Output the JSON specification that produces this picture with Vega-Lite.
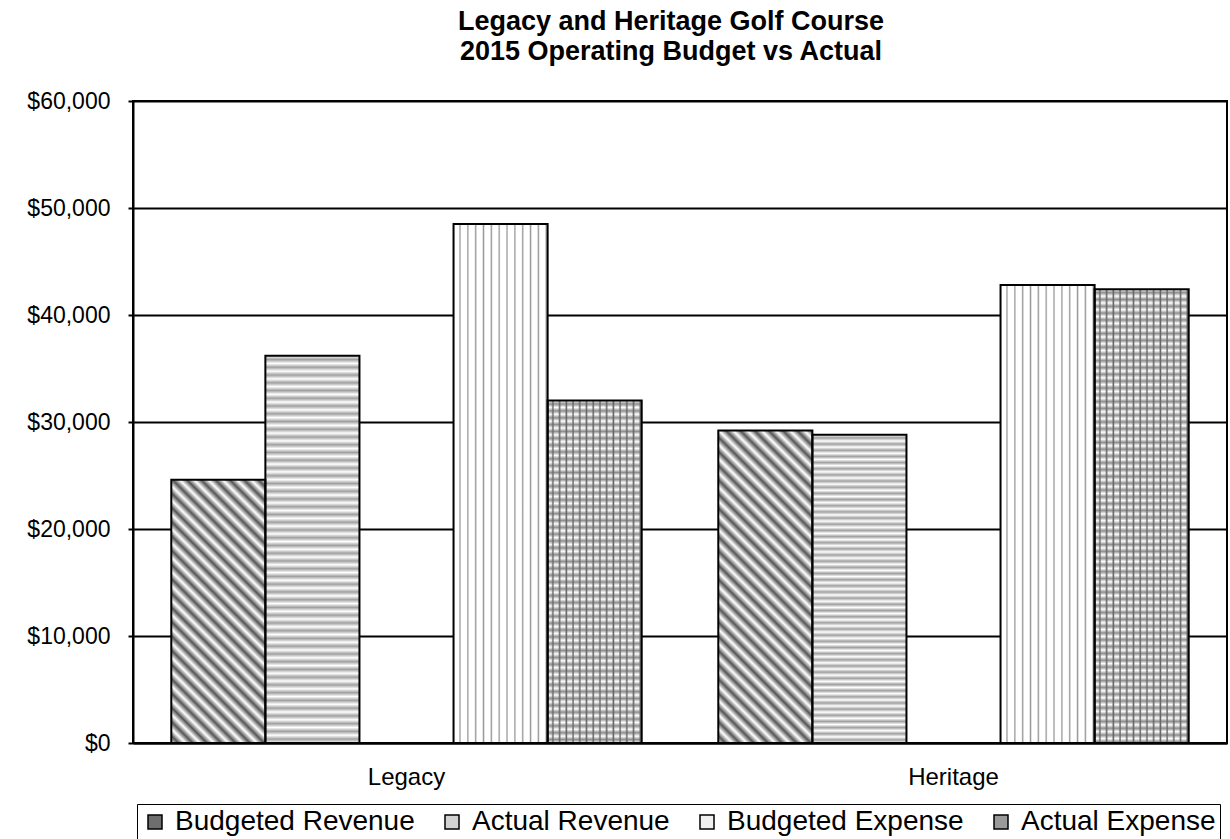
{
"$schema":"https://vega.github.io/schema/vega-lite/v6.json",
"width":1094,"height":642,
"autosize":{"type":"none"},
"padding":{"left":133,"top":101,"right":3,"bottom":96},
"background":"white",
"title":{"text":["Legacy and Heritage Golf Course","2015 Operating Budget vs Actual"],"font":"Liberation Sans","fontSize":27,"fontWeight":"bold","color":"black","lineHeight":30,"anchor":"middle","dx":-9,"offset":24},
"data":{"values":[
{"course":"Legacy","series":"Budgeted Revenue","amount":24600},
{"course":"Legacy","series":"Actual Revenue","amount":36200},
{"course":"Legacy","series":"Budgeted Expense","amount":48500},
{"course":"Legacy","series":"Actual Expense","amount":32000},
{"course":"Heritage","series":"Budgeted Revenue","amount":29200},
{"course":"Heritage","series":"Actual Revenue","amount":28800},
{"course":"Heritage","series":"Budgeted Expense","amount":42800},
{"course":"Heritage","series":"Actual Expense","amount":42400}
]},
"encoding":{
"x":{"field":"course","type":"nominal","sort":["Legacy","Heritage"],"scale":{"paddingInner":0.14,"paddingOuter":0.07},"axis":{"title":null,"labelAngle":0,"ticks":false,"labelPadding":22,"labelFontSize":24,"labelFont":"Liberation Sans","labelColor":"black","domainColor":"black","domainWidth":2,"grid":false}},
"xOffset":{"field":"series","type":"nominal","scale":{"domain":["Budgeted Revenue","Actual Revenue","gap","Budgeted Expense","Actual Expense"],"paddingInner":0,"paddingOuter":0}},
"y":{"field":"amount","type":"quantitative","scale":{"domain":[0,60000],"nice":false},"axis":{"title":null,"values":[0,10000,20000,30000,40000,50000,60000],"format":"$,.0f","labelFontSize":23,"labelFont":"Liberation Sans","labelColor":"black","labelPadding":18,"tickColor":"black","tickSize":5,"tickWidth":2,"domainColor":"black","domainWidth":2,"grid":true,"gridColor":"black","gridWidth":2}}
},
"layer":[
{"mark":{"type":"bar","stroke":null},
 "encoding":{"color":{"field":"series","type":"nominal","scale":{"domain":["Budgeted Revenue","Actual Revenue","Budgeted Expense","Actual Expense"],"range":["#6e6e6e","#d2d2d2","#f0f0f0","#9a9a9a"]},
 "legend":{"orient":"none","legendX":4,"legendY":703,"direction":"horizontal","columns":4,"gridAlign":"each","columnPadding":23,"padding":4,"strokeColor":"black","title":null,"labelFont":"Liberation Sans","labelFontSize":28,"labelLimit":500,"labelColor":"black","labelOffset":6,"symbolType":"square","symbolSize":196,"symbolStrokeColor":"black","symbolStrokeWidth":1.5,"symbolOpacity":1}}}},
{"transform":[{"filter":"datum.series==='Budgeted Revenue' && datum.course==='Legacy'"}],
 "mark":{"type":"bar","stroke":null,"fill":{"gradient":"linear","x1":0,"y1":1,"x2":0.4303,"y2":-0.2037,"stops":[
{"offset":0,"color":"#fff"},{"offset":0.02,"color":"#555"},{"offset":0.04,"color":"#fff"},{"offset":0.06,"color":"#555"},{"offset":0.08,"color":"#fff"},{"offset":0.1,"color":"#555"},{"offset":0.12,"color":"#fff"},{"offset":0.14,"color":"#555"},{"offset":0.16,"color":"#fff"},{"offset":0.18,"color":"#555"},{"offset":0.2,"color":"#fff"},{"offset":0.22,"color":"#555"},{"offset":0.24,"color":"#fff"},{"offset":0.26,"color":"#555"},{"offset":0.28,"color":"#fff"},{"offset":0.3,"color":"#555"},{"offset":0.32,"color":"#fff"},{"offset":0.34,"color":"#555"},{"offset":0.36,"color":"#fff"},{"offset":0.38,"color":"#555"},{"offset":0.4,"color":"#fff"},{"offset":0.42,"color":"#555"},{"offset":0.44,"color":"#fff"},{"offset":0.46,"color":"#555"},{"offset":0.48,"color":"#fff"},{"offset":0.5,"color":"#555"},{"offset":0.52,"color":"#fff"},{"offset":0.54,"color":"#555"},{"offset":0.56,"color":"#fff"},{"offset":0.58,"color":"#555"},{"offset":0.6,"color":"#fff"},{"offset":0.62,"color":"#555"},{"offset":0.64,"color":"#fff"},{"offset":0.66,"color":"#555"},{"offset":0.68,"color":"#fff"},{"offset":0.7,"color":"#555"},{"offset":0.72,"color":"#fff"},{"offset":0.74,"color":"#555"},{"offset":0.76,"color":"#fff"},{"offset":0.78,"color":"#555"},{"offset":0.8,"color":"#fff"},{"offset":0.82,"color":"#555"},{"offset":0.84,"color":"#fff"},{"offset":0.86,"color":"#555"},{"offset":0.88,"color":"#fff"},{"offset":0.9,"color":"#555"},{"offset":0.92,"color":"#fff"},{"offset":0.94,"color":"#555"},{"offset":0.96,"color":"#fff"},{"offset":0.98,"color":"#555"},{"offset":1,"color":"#fff"}]}}},
{"transform":[{"filter":"datum.series==='Budgeted Revenue' && datum.course==='Heritage'"}],
 "mark":{"type":"bar","stroke":null,"fill":{"gradient":"linear","x1":0,"y1":1,"x2":0.3593,"y2":-0.193,"stops":[
{"offset":0,"color":"#fff"},{"offset":0.0175,"color":"#555"},{"offset":0.035,"color":"#fff"},{"offset":0.0525,"color":"#555"},{"offset":0.07,"color":"#fff"},{"offset":0.0875,"color":"#555"},{"offset":0.105,"color":"#fff"},{"offset":0.1225,"color":"#555"},{"offset":0.14,"color":"#fff"},{"offset":0.1575,"color":"#555"},{"offset":0.175,"color":"#fff"},{"offset":0.1925,"color":"#555"},{"offset":0.21,"color":"#fff"},{"offset":0.2275,"color":"#555"},{"offset":0.245,"color":"#fff"},{"offset":0.2625,"color":"#555"},{"offset":0.28,"color":"#fff"},{"offset":0.2975,"color":"#555"},{"offset":0.315,"color":"#fff"},{"offset":0.3325,"color":"#555"},{"offset":0.35,"color":"#fff"},{"offset":0.3675,"color":"#555"},{"offset":0.385,"color":"#fff"},{"offset":0.4025,"color":"#555"},{"offset":0.42,"color":"#fff"},{"offset":0.4375,"color":"#555"},{"offset":0.455,"color":"#fff"},{"offset":0.4725,"color":"#555"},{"offset":0.49,"color":"#fff"},{"offset":0.5075,"color":"#555"},{"offset":0.525,"color":"#fff"},{"offset":0.5425,"color":"#555"},{"offset":0.56,"color":"#fff"},{"offset":0.5775,"color":"#555"},{"offset":0.595,"color":"#fff"},{"offset":0.6125,"color":"#555"},{"offset":0.63,"color":"#fff"},{"offset":0.6475,"color":"#555"},{"offset":0.665,"color":"#fff"},{"offset":0.6825,"color":"#555"},{"offset":0.7,"color":"#fff"},{"offset":0.7175,"color":"#555"},{"offset":0.735,"color":"#fff"},{"offset":0.7525,"color":"#555"},{"offset":0.77,"color":"#fff"},{"offset":0.7875,"color":"#555"},{"offset":0.805,"color":"#fff"},{"offset":0.8225,"color":"#555"},{"offset":0.84,"color":"#fff"},{"offset":0.8575,"color":"#555"},{"offset":0.875,"color":"#fff"},{"offset":0.8925,"color":"#555"},{"offset":0.91,"color":"#fff"},{"offset":0.9275,"color":"#555"},{"offset":0.945,"color":"#fff"},{"offset":0.9625,"color":"#555"},{"offset":0.98,"color":"#fff"},{"offset":0.9975,"color":"#555"}]}}},
{"transform":[{"filter":"datum.series==='Actual Revenue'"}],
 "mark":{"type":"bar","stroke":null,"fill":{"gradient":"linear","x1":0,"y1":0,"x2":0,"y2":1,"stops":[
{"offset":0,"color":"#fff"},{"offset":0.01,"color":"#a0a0a0"},{"offset":0.02,"color":"#fff"},{"offset":0.03,"color":"#a0a0a0"},{"offset":0.04,"color":"#fff"},{"offset":0.05,"color":"#a0a0a0"},{"offset":0.06,"color":"#fff"},{"offset":0.07,"color":"#a0a0a0"},{"offset":0.08,"color":"#fff"},{"offset":0.09,"color":"#a0a0a0"},{"offset":0.1,"color":"#fff"},{"offset":0.11,"color":"#a0a0a0"},{"offset":0.12,"color":"#fff"},{"offset":0.13,"color":"#a0a0a0"},{"offset":0.14,"color":"#fff"},{"offset":0.15,"color":"#a0a0a0"},{"offset":0.16,"color":"#fff"},{"offset":0.17,"color":"#a0a0a0"},{"offset":0.18,"color":"#fff"},{"offset":0.19,"color":"#a0a0a0"},{"offset":0.2,"color":"#fff"},{"offset":0.21,"color":"#a0a0a0"},{"offset":0.22,"color":"#fff"},{"offset":0.23,"color":"#a0a0a0"},{"offset":0.24,"color":"#fff"},{"offset":0.25,"color":"#a0a0a0"},{"offset":0.26,"color":"#fff"},{"offset":0.27,"color":"#a0a0a0"},{"offset":0.28,"color":"#fff"},{"offset":0.29,"color":"#a0a0a0"},{"offset":0.3,"color":"#fff"},{"offset":0.31,"color":"#a0a0a0"},{"offset":0.32,"color":"#fff"},{"offset":0.33,"color":"#a0a0a0"},{"offset":0.34,"color":"#fff"},{"offset":0.35,"color":"#a0a0a0"},{"offset":0.36,"color":"#fff"},{"offset":0.37,"color":"#a0a0a0"},{"offset":0.38,"color":"#fff"},{"offset":0.39,"color":"#a0a0a0"},{"offset":0.4,"color":"#fff"},{"offset":0.41,"color":"#a0a0a0"},{"offset":0.42,"color":"#fff"},{"offset":0.43,"color":"#a0a0a0"},{"offset":0.44,"color":"#fff"},{"offset":0.45,"color":"#a0a0a0"},{"offset":0.46,"color":"#fff"},{"offset":0.47,"color":"#a0a0a0"},{"offset":0.48,"color":"#fff"},{"offset":0.49,"color":"#a0a0a0"},{"offset":0.5,"color":"#fff"},{"offset":0.51,"color":"#a0a0a0"},{"offset":0.52,"color":"#fff"},{"offset":0.53,"color":"#a0a0a0"},{"offset":0.54,"color":"#fff"},{"offset":0.55,"color":"#a0a0a0"},{"offset":0.56,"color":"#fff"},{"offset":0.57,"color":"#a0a0a0"},{"offset":0.58,"color":"#fff"},{"offset":0.59,"color":"#a0a0a0"},{"offset":0.6,"color":"#fff"},{"offset":0.61,"color":"#a0a0a0"},{"offset":0.62,"color":"#fff"},{"offset":0.63,"color":"#a0a0a0"},{"offset":0.64,"color":"#fff"},{"offset":0.65,"color":"#a0a0a0"},{"offset":0.66,"color":"#fff"},{"offset":0.67,"color":"#a0a0a0"},{"offset":0.68,"color":"#fff"},{"offset":0.69,"color":"#a0a0a0"},{"offset":0.7,"color":"#fff"},{"offset":0.71,"color":"#a0a0a0"},{"offset":0.72,"color":"#fff"},{"offset":0.73,"color":"#a0a0a0"},{"offset":0.74,"color":"#fff"},{"offset":0.75,"color":"#a0a0a0"},{"offset":0.76,"color":"#fff"},{"offset":0.77,"color":"#a0a0a0"},{"offset":0.78,"color":"#fff"},{"offset":0.79,"color":"#a0a0a0"},{"offset":0.8,"color":"#fff"},{"offset":0.81,"color":"#a0a0a0"},{"offset":0.82,"color":"#fff"},{"offset":0.83,"color":"#a0a0a0"},{"offset":0.84,"color":"#fff"},{"offset":0.85,"color":"#a0a0a0"},{"offset":0.86,"color":"#fff"},{"offset":0.87,"color":"#a0a0a0"},{"offset":0.88,"color":"#fff"},{"offset":0.89,"color":"#a0a0a0"},{"offset":0.9,"color":"#fff"},{"offset":0.91,"color":"#a0a0a0"},{"offset":0.92,"color":"#fff"},{"offset":0.93,"color":"#a0a0a0"},{"offset":0.94,"color":"#fff"},{"offset":0.95,"color":"#a0a0a0"},{"offset":0.96,"color":"#fff"},{"offset":0.97,"color":"#a0a0a0"},{"offset":0.98,"color":"#fff"},{"offset":0.99,"color":"#a0a0a0"},{"offset":1,"color":"#fff"}]}}},
{"transform":[{"filter":"datum.series==='Budgeted Expense'"}],
 "mark":{"type":"bar","stroke":null,"fill":{"gradient":"linear","x1":0,"y1":0,"x2":1,"y2":0,"stops":[
{"offset":0,"color":"#fff"},
{"offset":0.0542,"color":"#fff"},{"offset":0.0683,"color":"#999"},{"offset":0.0833,"color":"#fff"},
{"offset":0.1375,"color":"#fff"},{"offset":0.1517,"color":"#999"},{"offset":0.1667,"color":"#fff"},
{"offset":0.2208,"color":"#fff"},{"offset":0.235,"color":"#999"},{"offset":0.25,"color":"#fff"},
{"offset":0.3042,"color":"#fff"},{"offset":0.3183,"color":"#999"},{"offset":0.3333,"color":"#fff"},
{"offset":0.3875,"color":"#fff"},{"offset":0.4017,"color":"#999"},{"offset":0.4167,"color":"#fff"},
{"offset":0.4708,"color":"#fff"},{"offset":0.485,"color":"#999"},{"offset":0.5,"color":"#fff"},
{"offset":0.5542,"color":"#fff"},{"offset":0.5683,"color":"#999"},{"offset":0.5833,"color":"#fff"},
{"offset":0.6375,"color":"#fff"},{"offset":0.6517,"color":"#999"},{"offset":0.6667,"color":"#fff"},
{"offset":0.7208,"color":"#fff"},{"offset":0.735,"color":"#999"},{"offset":0.75,"color":"#fff"},
{"offset":0.8042,"color":"#fff"},{"offset":0.8183,"color":"#999"},{"offset":0.8333,"color":"#fff"},
{"offset":0.8875,"color":"#fff"},{"offset":0.9017,"color":"#999"},{"offset":0.9167,"color":"#fff"},
{"offset":0.9708,"color":"#fff"},{"offset":0.985,"color":"#999"},{"offset":1,"color":"#fff"}]}}},
{"transform":[{"filter":"datum.series==='Actual Expense'"}],
 "mark":{"type":"bar","stroke":null,"fill":{"gradient":"linear","x1":0,"y1":0,"x2":1,"y2":0,"stops":[
{"offset":0,"color":"#fff"},
{"offset":0.0393,"color":"#fff"},{"offset":0.0571,"color":"#666"},{"offset":0.0714,"color":"#fff"},
{"offset":0.1107,"color":"#fff"},{"offset":0.1286,"color":"#666"},{"offset":0.1429,"color":"#fff"},
{"offset":0.1821,"color":"#fff"},{"offset":0.2,"color":"#666"},{"offset":0.2143,"color":"#fff"},
{"offset":0.2536,"color":"#fff"},{"offset":0.2714,"color":"#666"},{"offset":0.2857,"color":"#fff"},
{"offset":0.325,"color":"#fff"},{"offset":0.3429,"color":"#666"},{"offset":0.3571,"color":"#fff"},
{"offset":0.3964,"color":"#fff"},{"offset":0.4143,"color":"#666"},{"offset":0.4286,"color":"#fff"},
{"offset":0.4679,"color":"#fff"},{"offset":0.4857,"color":"#666"},{"offset":0.5,"color":"#fff"},
{"offset":0.5393,"color":"#fff"},{"offset":0.5571,"color":"#666"},{"offset":0.5714,"color":"#fff"},
{"offset":0.6107,"color":"#fff"},{"offset":0.6286,"color":"#666"},{"offset":0.6429,"color":"#fff"},
{"offset":0.6821,"color":"#fff"},{"offset":0.7,"color":"#666"},{"offset":0.7143,"color":"#fff"},
{"offset":0.7536,"color":"#fff"},{"offset":0.7714,"color":"#666"},{"offset":0.7857,"color":"#fff"},
{"offset":0.825,"color":"#fff"},{"offset":0.8429,"color":"#666"},{"offset":0.8571,"color":"#fff"},
{"offset":0.8964,"color":"#fff"},{"offset":0.9143,"color":"#666"},{"offset":0.9286,"color":"#fff"},
{"offset":0.9679,"color":"#fff"},{"offset":0.9857,"color":"#666"},{"offset":1,"color":"#fff"}]}}},
{"transform":[{"filter":"datum.series==='Actual Expense' && datum.course==='Legacy'"}],
 "mark":{"type":"bar","stroke":null,"fill":{"gradient":"linear","x1":0,"y1":0,"x2":0,"y2":1,"stops":[
{"offset":0,"color":"#6660"},{"offset":0.01,"color":"#666b"},{"offset":0.02,"color":"#6660"},{"offset":0.03,"color":"#666b"},{"offset":0.04,"color":"#6660"},{"offset":0.05,"color":"#666b"},{"offset":0.06,"color":"#6660"},{"offset":0.07,"color":"#666b"},{"offset":0.08,"color":"#6660"},{"offset":0.09,"color":"#666b"},{"offset":0.1,"color":"#6660"},{"offset":0.11,"color":"#666b"},{"offset":0.12,"color":"#6660"},{"offset":0.13,"color":"#666b"},{"offset":0.14,"color":"#6660"},{"offset":0.15,"color":"#666b"},{"offset":0.16,"color":"#6660"},{"offset":0.17,"color":"#666b"},{"offset":0.18,"color":"#6660"},{"offset":0.19,"color":"#666b"},{"offset":0.2,"color":"#6660"},{"offset":0.21,"color":"#666b"},{"offset":0.22,"color":"#6660"},{"offset":0.23,"color":"#666b"},{"offset":0.24,"color":"#6660"},{"offset":0.25,"color":"#666b"},{"offset":0.26,"color":"#6660"},{"offset":0.27,"color":"#666b"},{"offset":0.28,"color":"#6660"},{"offset":0.29,"color":"#666b"},{"offset":0.3,"color":"#6660"},{"offset":0.31,"color":"#666b"},{"offset":0.32,"color":"#6660"},{"offset":0.33,"color":"#666b"},{"offset":0.34,"color":"#6660"},{"offset":0.35,"color":"#666b"},{"offset":0.36,"color":"#6660"},{"offset":0.37,"color":"#666b"},{"offset":0.38,"color":"#6660"},{"offset":0.39,"color":"#666b"},{"offset":0.4,"color":"#6660"},{"offset":0.41,"color":"#666b"},{"offset":0.42,"color":"#6660"},{"offset":0.43,"color":"#666b"},{"offset":0.44,"color":"#6660"},{"offset":0.45,"color":"#666b"},{"offset":0.46,"color":"#6660"},{"offset":0.47,"color":"#666b"},{"offset":0.48,"color":"#6660"},{"offset":0.49,"color":"#666b"},{"offset":0.5,"color":"#6660"},{"offset":0.51,"color":"#666b"},{"offset":0.52,"color":"#6660"},{"offset":0.53,"color":"#666b"},{"offset":0.54,"color":"#6660"},{"offset":0.55,"color":"#666b"},{"offset":0.56,"color":"#6660"},{"offset":0.57,"color":"#666b"},{"offset":0.58,"color":"#6660"},{"offset":0.59,"color":"#666b"},{"offset":0.6,"color":"#6660"},{"offset":0.61,"color":"#666b"},{"offset":0.62,"color":"#6660"},{"offset":0.63,"color":"#666b"},{"offset":0.64,"color":"#6660"},{"offset":0.65,"color":"#666b"},{"offset":0.66,"color":"#6660"},{"offset":0.67,"color":"#666b"},{"offset":0.68,"color":"#6660"},{"offset":0.69,"color":"#666b"},{"offset":0.7,"color":"#6660"},{"offset":0.71,"color":"#666b"},{"offset":0.72,"color":"#6660"},{"offset":0.73,"color":"#666b"},{"offset":0.74,"color":"#6660"},{"offset":0.75,"color":"#666b"},{"offset":0.76,"color":"#6660"},{"offset":0.77,"color":"#666b"},{"offset":0.78,"color":"#6660"},{"offset":0.79,"color":"#666b"},{"offset":0.8,"color":"#6660"},{"offset":0.81,"color":"#666b"},{"offset":0.82,"color":"#6660"},{"offset":0.83,"color":"#666b"},{"offset":0.84,"color":"#6660"},{"offset":0.85,"color":"#666b"},{"offset":0.86,"color":"#6660"},{"offset":0.87,"color":"#666b"},{"offset":0.88,"color":"#6660"},{"offset":0.89,"color":"#666b"},{"offset":0.9,"color":"#6660"},{"offset":0.91,"color":"#666b"},{"offset":0.92,"color":"#6660"},{"offset":0.93,"color":"#666b"},{"offset":0.94,"color":"#6660"},{"offset":0.95,"color":"#666b"},{"offset":0.96,"color":"#6660"},{"offset":0.97,"color":"#666b"},{"offset":0.98,"color":"#6660"},{"offset":0.99,"color":"#666b"},{"offset":1,"color":"#6660"}]}}},
{"transform":[{"filter":"datum.series==='Actual Expense' && datum.course==='Heritage'"}],
 "mark":{"type":"bar","stroke":null,"fill":{"gradient":"linear","x1":0,"y1":0,"x2":0,"y2":1,"stops":[
{"offset":0,"color":"#6660"},{"offset":0.0075,"color":"#666b"},{"offset":0.015,"color":"#6660"},{"offset":0.0225,"color":"#666b"},{"offset":0.03,"color":"#6660"},{"offset":0.0375,"color":"#666b"},{"offset":0.045,"color":"#6660"},{"offset":0.0525,"color":"#666b"},{"offset":0.06,"color":"#6660"},{"offset":0.0675,"color":"#666b"},{"offset":0.075,"color":"#6660"},{"offset":0.0825,"color":"#666b"},{"offset":0.09,"color":"#6660"},{"offset":0.0975,"color":"#666b"},{"offset":0.105,"color":"#6660"},{"offset":0.1125,"color":"#666b"},{"offset":0.12,"color":"#6660"},{"offset":0.1275,"color":"#666b"},{"offset":0.135,"color":"#6660"},{"offset":0.1425,"color":"#666b"},{"offset":0.15,"color":"#6660"},{"offset":0.1575,"color":"#666b"},{"offset":0.165,"color":"#6660"},{"offset":0.1725,"color":"#666b"},{"offset":0.18,"color":"#6660"},{"offset":0.1875,"color":"#666b"},{"offset":0.195,"color":"#6660"},{"offset":0.2025,"color":"#666b"},{"offset":0.21,"color":"#6660"},{"offset":0.2175,"color":"#666b"},{"offset":0.225,"color":"#6660"},{"offset":0.2325,"color":"#666b"},{"offset":0.24,"color":"#6660"},{"offset":0.2475,"color":"#666b"},{"offset":0.255,"color":"#6660"},{"offset":0.2625,"color":"#666b"},{"offset":0.27,"color":"#6660"},{"offset":0.2775,"color":"#666b"},{"offset":0.285,"color":"#6660"},{"offset":0.2925,"color":"#666b"},{"offset":0.3,"color":"#6660"},{"offset":0.3075,"color":"#666b"},{"offset":0.315,"color":"#6660"},{"offset":0.3225,"color":"#666b"},{"offset":0.33,"color":"#6660"},{"offset":0.3375,"color":"#666b"},{"offset":0.345,"color":"#6660"},{"offset":0.3525,"color":"#666b"},{"offset":0.36,"color":"#6660"},{"offset":0.3675,"color":"#666b"},{"offset":0.375,"color":"#6660"},{"offset":0.3825,"color":"#666b"},{"offset":0.39,"color":"#6660"},{"offset":0.3975,"color":"#666b"},{"offset":0.405,"color":"#6660"},{"offset":0.4125,"color":"#666b"},{"offset":0.42,"color":"#6660"},{"offset":0.4275,"color":"#666b"},{"offset":0.435,"color":"#6660"},{"offset":0.4425,"color":"#666b"},{"offset":0.45,"color":"#6660"},{"offset":0.4575,"color":"#666b"},{"offset":0.465,"color":"#6660"},{"offset":0.4725,"color":"#666b"},{"offset":0.48,"color":"#6660"},{"offset":0.4875,"color":"#666b"},{"offset":0.495,"color":"#6660"},{"offset":0.5025,"color":"#666b"},{"offset":0.51,"color":"#6660"},{"offset":0.5175,"color":"#666b"},{"offset":0.525,"color":"#6660"},{"offset":0.5325,"color":"#666b"},{"offset":0.54,"color":"#6660"},{"offset":0.5475,"color":"#666b"},{"offset":0.555,"color":"#6660"},{"offset":0.5625,"color":"#666b"},{"offset":0.57,"color":"#6660"},{"offset":0.5775,"color":"#666b"},{"offset":0.585,"color":"#6660"},{"offset":0.5925,"color":"#666b"},{"offset":0.6,"color":"#6660"},{"offset":0.6075,"color":"#666b"},{"offset":0.615,"color":"#6660"},{"offset":0.6225,"color":"#666b"},{"offset":0.63,"color":"#6660"},{"offset":0.6375,"color":"#666b"},{"offset":0.645,"color":"#6660"},{"offset":0.6525,"color":"#666b"},{"offset":0.66,"color":"#6660"},{"offset":0.6675,"color":"#666b"},{"offset":0.675,"color":"#6660"},{"offset":0.6825,"color":"#666b"},{"offset":0.69,"color":"#6660"},{"offset":0.6975,"color":"#666b"},{"offset":0.705,"color":"#6660"},{"offset":0.7125,"color":"#666b"},{"offset":0.72,"color":"#6660"},{"offset":0.7275,"color":"#666b"},{"offset":0.735,"color":"#6660"},{"offset":0.7425,"color":"#666b"},{"offset":0.75,"color":"#6660"},{"offset":0.7575,"color":"#666b"},{"offset":0.765,"color":"#6660"},{"offset":0.7725,"color":"#666b"},{"offset":0.78,"color":"#6660"},{"offset":0.7875,"color":"#666b"},{"offset":0.795,"color":"#6660"},{"offset":0.8025,"color":"#666b"},{"offset":0.81,"color":"#6660"},{"offset":0.8175,"color":"#666b"},{"offset":0.825,"color":"#6660"},{"offset":0.8325,"color":"#666b"},{"offset":0.84,"color":"#6660"},{"offset":0.8475,"color":"#666b"},{"offset":0.855,"color":"#6660"},{"offset":0.8625,"color":"#666b"},{"offset":0.87,"color":"#6660"},{"offset":0.8775,"color":"#666b"},{"offset":0.885,"color":"#6660"},{"offset":0.8925,"color":"#666b"},{"offset":0.9,"color":"#6660"},{"offset":0.9075,"color":"#666b"},{"offset":0.915,"color":"#6660"},{"offset":0.9225,"color":"#666b"},{"offset":0.93,"color":"#6660"},{"offset":0.9375,"color":"#666b"},{"offset":0.945,"color":"#6660"},{"offset":0.9525,"color":"#666b"},{"offset":0.96,"color":"#6660"},{"offset":0.9675,"color":"#666b"},{"offset":0.975,"color":"#6660"},{"offset":0.9825,"color":"#666b"},{"offset":0.99,"color":"#6660"},{"offset":0.9975,"color":"#666b"}]}}},
{"mark":{"type":"bar","fill":"transparent","stroke":"black","strokeWidth":2}}
],
"config":{"view":{"stroke":"black","strokeWidth":2},"font":"Liberation Sans"}
}
